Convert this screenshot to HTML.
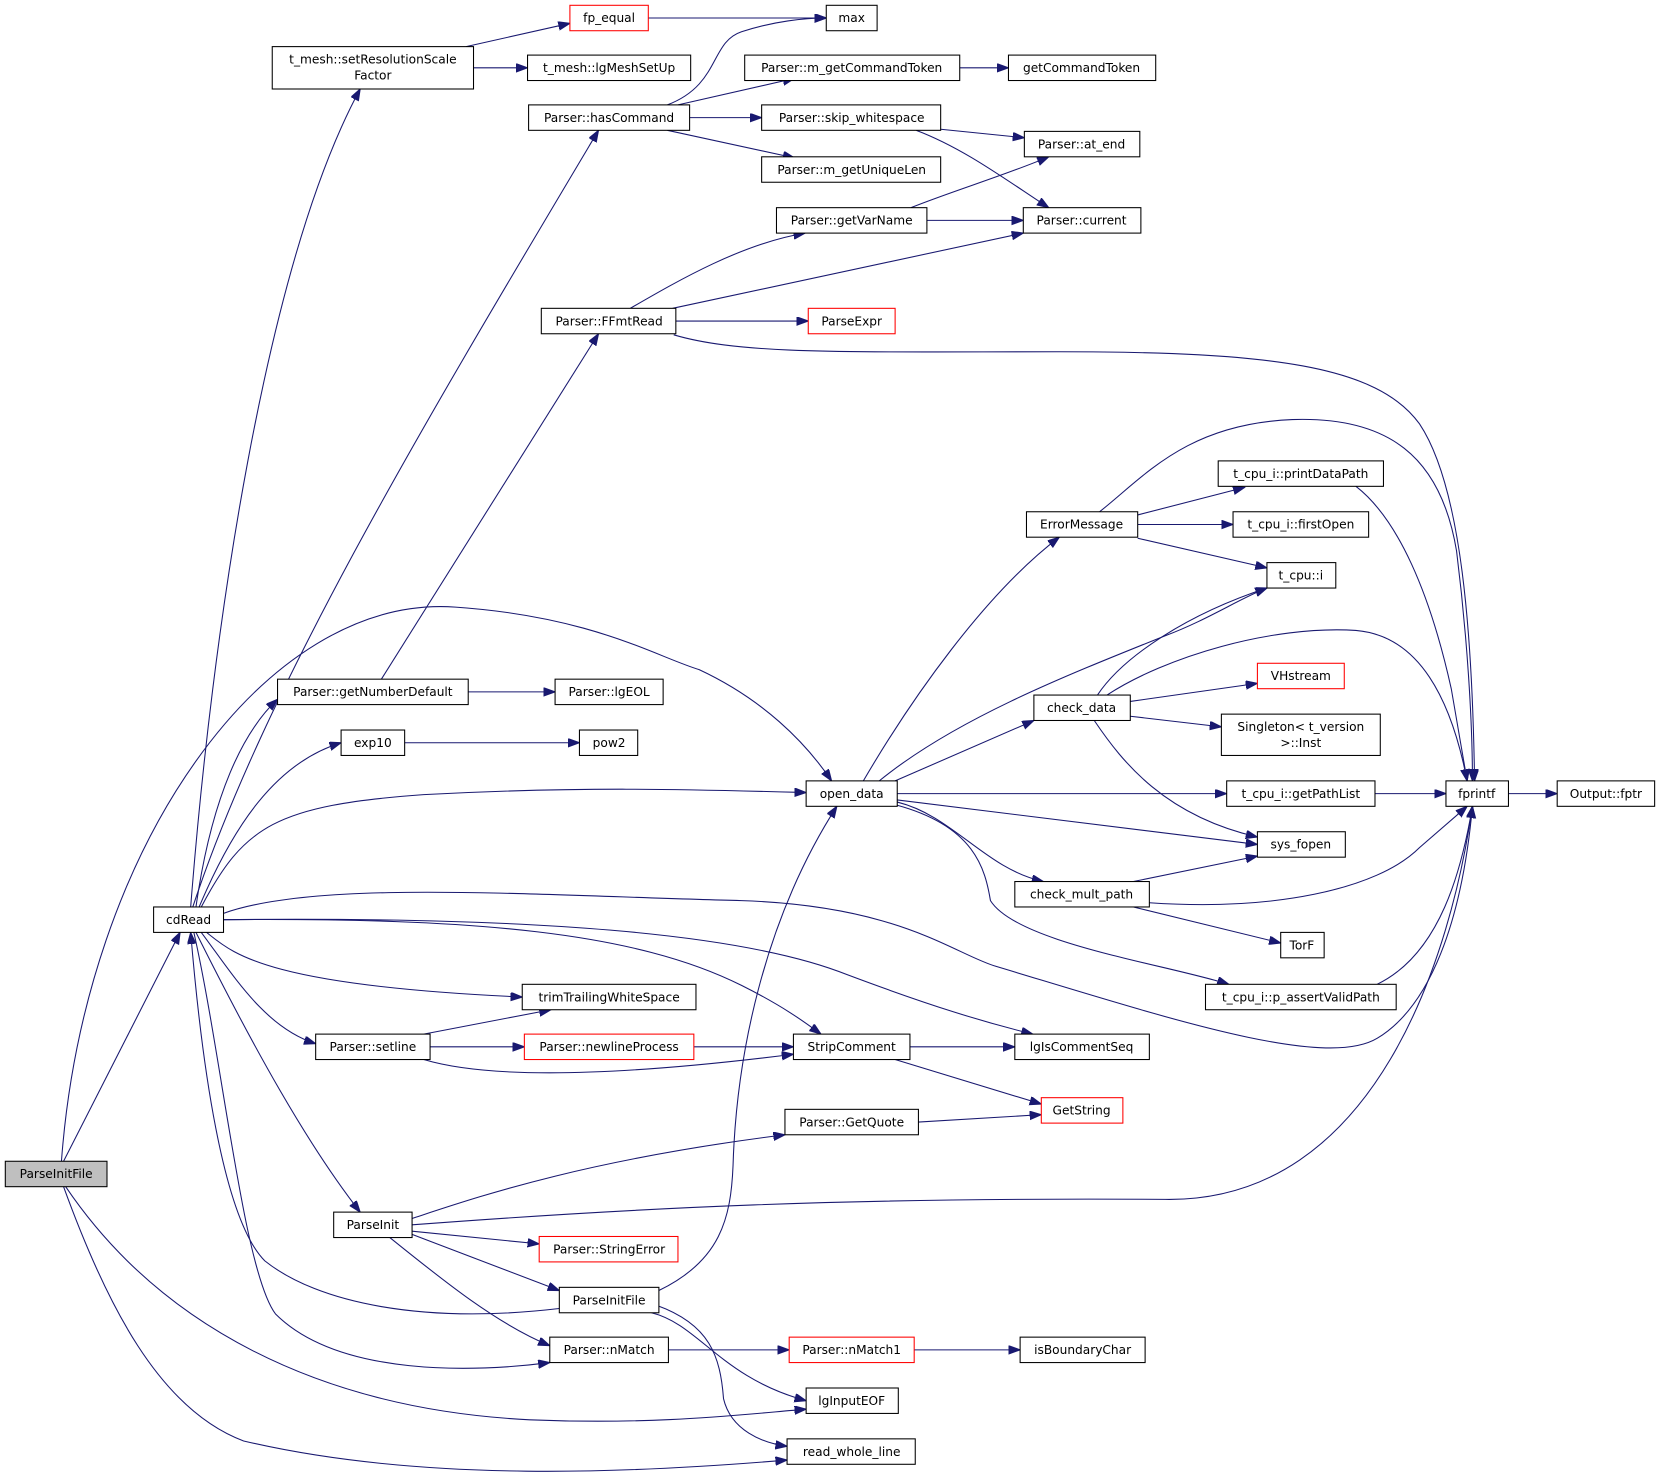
<!DOCTYPE html>
<html><head><meta charset="utf-8"><style>
html,body{margin:0;padding:0;background:#fff;}
svg{display:block;}
text{font-family:"DejaVu Sans","Liberation Sans",sans-serif;font-size:11.5px;fill:#000;text-anchor:middle;}
.n{fill:#fff;stroke:#000;stroke-width:1;}
.r{fill:#fff;stroke:#ff0000;stroke-width:1;}
.g{fill:#bfbfbf;stroke:#000;stroke-width:1;}
.e{fill:none;stroke:#191970;stroke-width:1;marker-end:url(#a);}
</style></head><body>
<svg width="1661" height="1477" viewBox="0 0 1568 1394" preserveAspectRatio="none" xmlns="http://www.w3.org/2000/svg">
<defs><marker id="a" markerUnits="userSpaceOnUse" markerWidth="12" markerHeight="10" refX="11" refY="4" orient="auto"><path d="M0,0 L11,4 L0,8 Z" fill="#191970" stroke="#191970"/></marker></defs>
<g>
<path class="e" d="M60,1096 L170,880"/>
<path class="e" d="M58,1096 C80,800 250,560 430,573 C560,582 620,620 660,632 C720,660 760,700 785,737"/>
<path class="e" d="M62,1120 C150,1250 300,1330 500,1340 C620,1345 700,1335 761,1330"/>
<path class="e" d="M60,1120 C100,1230 150,1330 230,1360 C400,1400 600,1390 743,1378"/>
<path class="e" d="M180,856 C200,600 250,250 340,84"/>
<path class="e" d="M182,856 C250,650 400,400 565,123"/>
<path class="e" d="M185,856 C200,750 230,690 262,660"/>
<path class="e" d="M188,856 C220,780 260,720 322,701"/>
<path class="e" d="M190,856 C230,780 260,760 400,750 C550,742 650,745 761,748"/>
<path class="e" d="M211,862 C300,830 500,845 700,850 C850,855 900,900 940,912 C1100,960 1250,1010 1300,980 C1350,950 1380,870 1390,761"/>
<path class="e" d="M211,868 C500,865 700,880 800,920 C880,950 930,965 975,976"/>
<path class="e" d="M211,868 C450,866 600,880 700,930 C740,950 760,965 775,976"/>
<path class="e" d="M195,880 C220,900 250,930 493,941"/>
<path class="e" d="M190,880 C220,920 250,970 298,985"/>
<path class="e" d="M185,880 C240,990 290,1080 340,1144"/>
<path class="e" d="M183,880 C210,1000 230,1200 260,1240 C320,1300 450,1295 519,1286"/>
<path class="e" d="M528,1235 C400,1250 300,1230 250,1190 C210,1150 190,1000 180,880"/>
<path class="e" d="M440,44 L538,22"/>
<path class="e" d="M447,64 L498,64"/>
<path class="e" d="M612,17 L780,17"/>
<path class="e" d="M630,99 C680,80 670,40 700,30 C730,20 760,17 780,17"/>
<path class="e" d="M640,99 L750,74"/>
<path class="e" d="M651,111 L719,111"/>
<path class="e" d="M630,123 L750,149"/>
<path class="e" d="M906,64 L952,64"/>
<path class="e" d="M888,122 L967,130"/>
<path class="e" d="M865,123 C910,140 950,170 990,196"/>
<path class="e" d="M860,196 C900,180 950,165 990,148"/>
<path class="e" d="M875,208 L966,208"/>
<path class="e" d="M595,291 C640,265 700,230 760,220"/>
<path class="e" d="M635,291 L966,220"/>
<path class="e" d="M638,303 L763,303"/>
<path class="e" d="M636,316 C700,335 800,332 1000,332 C1200,332 1300,345 1340,400 C1380,460 1390,600 1392,737"/>
<path class="e" d="M360,641 L565,315"/>
<path class="e" d="M442,653 L524,653"/>
<path class="e" d="M382,701 L547,701"/>
<path class="e" d="M815,737 C860,660 930,560 1000,507"/>
<path class="e" d="M830,737 C900,680 1000,640 1100,600 C1140,585 1170,565 1196,555"/>
<path class="e" d="M845,737 L976,680"/>
<path class="e" d="M847,749 L1158,749"/>
<path class="e" d="M847,755 L1187,797"/>
<path class="e" d="M847,757 C900,770 930,820 985,832"/>
<path class="e" d="M847,760 C920,780 930,820 935,850 C960,890 1100,910 1160,929"/>
<path class="e" d="M1038,483 C1080,450 1120,400 1220,396 C1310,393 1360,430 1375,520 C1385,600 1390,680 1390,737"/>
<path class="e" d="M1074,486 L1175,460"/>
<path class="e" d="M1074,495 L1164,495"/>
<path class="e" d="M1074,508 L1196,536"/>
<path class="e" d="M1280,459 C1320,490 1350,560 1370,650 L1385,737"/>
<path class="e" d="M1036,656 C1060,620 1120,580 1196,555"/>
<path class="e" d="M1045,656 C1100,620 1200,590 1280,595 C1340,600 1370,660 1385,737"/>
<path class="e" d="M1067,662 L1187,645"/>
<path class="e" d="M1067,676 L1153,686"/>
<path class="e" d="M1033,680 C1060,720 1100,770 1187,790"/>
<path class="e" d="M1298,749 L1365,749"/>
<path class="e" d="M1424,749 L1470,749"/>
<path class="e" d="M1070,832 L1187,808"/>
<path class="e" d="M1085,852 C1200,860 1300,840 1340,800 L1385,761"/>
<path class="e" d="M1070,856 L1209,890"/>
<path class="e" d="M1300,929 C1360,900 1380,820 1390,761"/>
<path class="e" d="M400,976 L520,953"/>
<path class="e" d="M406,988 L495,988"/>
<path class="e" d="M400,1000 C450,1015 550,1020 749,995"/>
<path class="e" d="M655,988 L749,988"/>
<path class="e" d="M859,988 L958,988"/>
<path class="e" d="M845,1000 L983,1042"/>
<path class="e" d="M867,1059 L983,1052"/>
<path class="e" d="M389,1150 C450,1130 550,1095 741,1071"/>
<path class="e" d="M389,1156 C600,1140 800,1130 1100,1132 C1300,1135 1370,900 1390,761"/>
<path class="e" d="M389,1162 L509,1174"/>
<path class="e" d="M389,1165 L528,1218"/>
<path class="e" d="M368,1168 C420,1210 470,1250 519,1270"/>
<path class="e" d="M622,1218 C680,1190 690,1150 692,1100 C695,1000 720,870 790,761"/>
<path class="e" d="M615,1239 C660,1250 680,1300 761,1322"/>
<path class="e" d="M620,1232 C670,1250 680,1280 683,1320 C690,1350 720,1362 743,1365"/>
<path class="e" d="M631,1274 L745,1274"/>
<path class="e" d="M863,1274 L963,1274"/>
</g>
<g>
<rect class="g" x="5" y="1096" width="96" height="24"/><text x="53" y="1112">ParseInitFile</text>
<rect class="n" x="145" y="856" width="66" height="24"/><text x="178" y="872">cdRead</text>
<rect class="n" x="257" y="44" width="190" height="40"/><text x="352" y="60">t_mesh::setResolutionScale</text><text x="352" y="75">Factor</text>
<rect class="r" x="538" y="5" width="74" height="24"/><text x="575" y="21">fp_equal</text>
<rect class="n" x="780" y="5" width="48" height="24"/><text x="804" y="21">max</text>
<rect class="n" x="498" y="52" width="154" height="24"/><text x="575" y="68">t_mesh::lgMeshSetUp</text>
<rect class="n" x="703" y="52" width="203" height="24"/><text x="804" y="68">Parser::m_getCommandToken</text>
<rect class="n" x="952" y="52" width="139" height="24"/><text x="1021" y="68">getCommandToken</text>
<rect class="n" x="499" y="99" width="152" height="24"/><text x="575" y="115">Parser::hasCommand</text>
<rect class="n" x="719" y="99" width="169" height="24"/><text x="804" y="115">Parser::skip_whitespace</text>
<rect class="n" x="967" y="124" width="109" height="24"/><text x="1021" y="140">Parser::at_end</text>
<rect class="n" x="719" y="148" width="169" height="24"/><text x="804" y="164">Parser::m_getUniqueLen</text>
<rect class="n" x="733" y="196" width="142" height="24"/><text x="804" y="212">Parser::getVarName</text>
<rect class="n" x="966" y="196" width="111" height="24"/><text x="1021" y="212">Parser::current</text>
<rect class="n" x="511" y="291" width="127" height="24"/><text x="575" y="307">Parser::FFmtRead</text>
<rect class="r" x="763" y="291" width="82" height="24"/><text x="804" y="307">ParseExpr</text>
<rect class="n" x="1150" y="435" width="156" height="24"/><text x="1228" y="451">t_cpu_i::printDataPath</text>
<rect class="n" x="969" y="483" width="105" height="24"/><text x="1021" y="499">ErrorMessage</text>
<rect class="n" x="1164" y="483" width="128" height="24"/><text x="1228" y="499">t_cpu_i::firstOpen</text>
<rect class="n" x="1196" y="531" width="65" height="24"/><text x="1228" y="547">t_cpu::i</text>
<rect class="r" x="1187" y="626" width="82" height="24"/><text x="1228" y="642">VHstream</text>
<rect class="n" x="976" y="656" width="91" height="24"/><text x="1021" y="672">check_data</text>
<rect class="n" x="1153" y="674" width="150" height="39"/><text x="1228" y="690">Singleton&lt; t_version</text><text x="1228" y="705">&gt;::Inst</text>
<rect class="n" x="262" y="641" width="180" height="24"/><text x="352" y="657">Parser::getNumberDefault</text>
<rect class="n" x="524" y="641" width="102" height="24"/><text x="575" y="657">Parser::lgEOL</text>
<rect class="n" x="322" y="689" width="60" height="24"/><text x="352" y="705">exp10</text>
<rect class="n" x="547" y="689" width="55" height="24"/><text x="575" y="705">pow2</text>
<rect class="n" x="761" y="737" width="86" height="24"/><text x="804" y="753">open_data</text>
<rect class="n" x="1158" y="737" width="140" height="24"/><text x="1228" y="753">t_cpu_i::getPathList</text>
<rect class="n" x="1365" y="737" width="59" height="24"/><text x="1394" y="753">fprintf</text>
<rect class="n" x="1470" y="737" width="92" height="24"/><text x="1516" y="753">Output::fptr</text>
<rect class="n" x="1187" y="785" width="83" height="24"/><text x="1228" y="801">sys_fopen</text>
<rect class="n" x="958" y="832" width="127" height="24"/><text x="1021" y="848">check_mult_path</text>
<rect class="n" x="1209" y="880" width="41" height="24"/><text x="1229" y="896">TorF</text>
<rect class="n" x="1138" y="929" width="180" height="24"/><text x="1228" y="945">t_cpu_i::p_assertValidPath</text>
<rect class="n" x="493" y="929" width="164" height="24"/><text x="575" y="945">trimTrailingWhiteSpace</text>
<rect class="n" x="298" y="976" width="108" height="24"/><text x="352" y="992">Parser::setline</text>
<rect class="r" x="495" y="976" width="160" height="24"/><text x="575" y="992">Parser::newlineProcess</text>
<rect class="n" x="749" y="976" width="110" height="24"/><text x="804" y="992">StripComment</text>
<rect class="n" x="958" y="976" width="127" height="24"/><text x="1021" y="992">lgIsCommentSeq</text>
<rect class="r" x="983" y="1036" width="77" height="24"/><text x="1021" y="1052">GetString</text>
<rect class="n" x="741" y="1047" width="126" height="24"/><text x="804" y="1063">Parser::GetQuote</text>
<rect class="n" x="315" y="1144" width="74" height="24"/><text x="352" y="1160">ParseInit</text>
<rect class="r" x="509" y="1167" width="131" height="24"/><text x="575" y="1183">Parser::StringError</text>
<rect class="n" x="528" y="1215" width="94" height="24"/><text x="575" y="1231">ParseInitFile</text>
<rect class="n" x="519" y="1262" width="112" height="24"/><text x="575" y="1278">Parser::nMatch</text>
<rect class="r" x="745" y="1262" width="118" height="24"/><text x="804" y="1278">Parser::nMatch1</text>
<rect class="n" x="963" y="1262" width="118" height="24"/><text x="1022" y="1278">isBoundaryChar</text>
<rect class="n" x="761" y="1310" width="87" height="24"/><text x="804" y="1326">lgInputEOF</text>
<rect class="n" x="743" y="1358" width="121" height="24"/><text x="804" y="1374">read_whole_line</text>
</g>
</svg>
</body></html>
